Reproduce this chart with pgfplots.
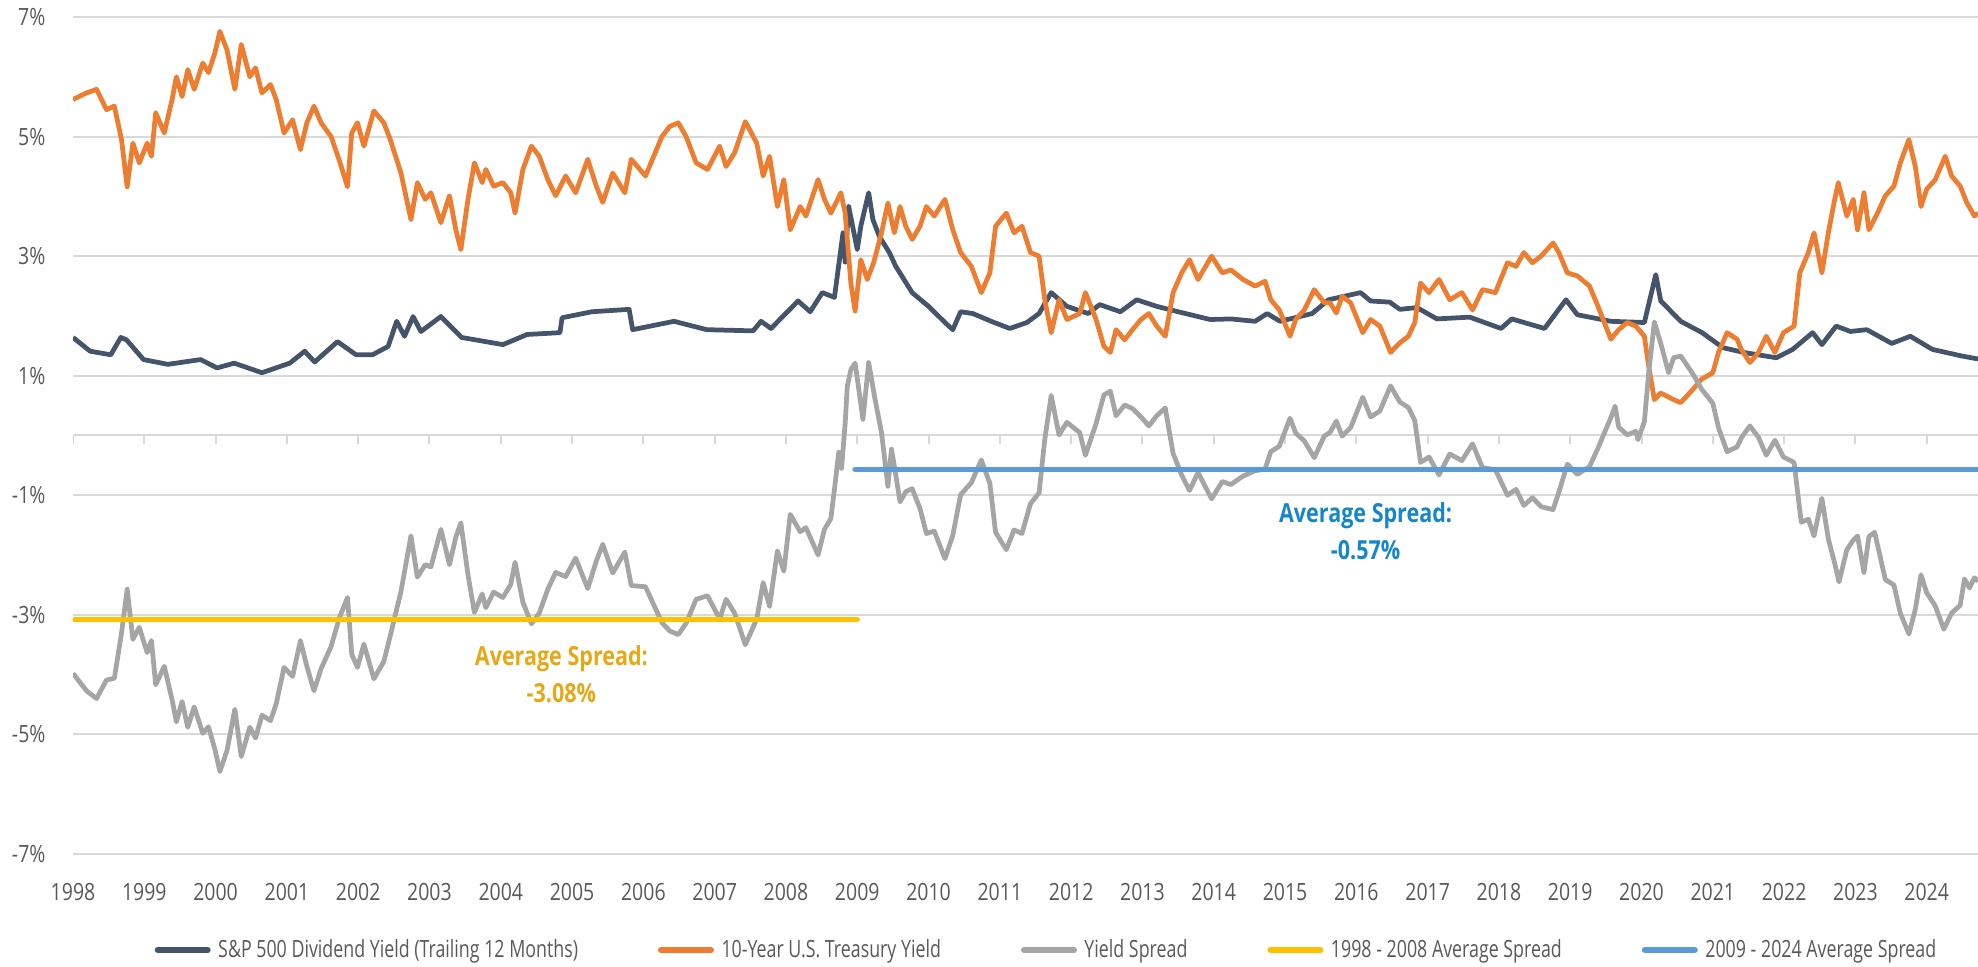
\documentclass[border=0pt]{standalone}
\usepackage{fontspec}
\setmainfont{Open Sans}[FakeStretch=0.82]
\newfontfamily\legfont{Open Sans}[FakeStretch=0.75]
\usepackage{pgfplots}
\pgfplotsset{compat=1.18}
\usepackage{pgfplotstable}
\definecolor{navyc}{HTML}{44546A}
\definecolor{orangec}{HTML}{ED7D31}
\definecolor{greyc}{HTML}{A5A5A5}
\definecolor{goldc}{HTML}{FFC000}
\definecolor{bluec}{HTML}{5B9BD5}
\definecolor{goldtext}{HTML}{E6A817}
\definecolor{bluetext}{HTML}{1586C8}
\definecolor{gridc}{HTML}{D9D9D9}
\definecolor{labelc}{HTML}{595959}

\pgfplotstableread{
x y
1998.00 1.64
1998.24 1.41
1998.53 1.35
1998.67 1.64
1998.75 1.60
1998.99 1.27
1999.33 1.19
1999.79 1.27
2000.02 1.13
2000.26 1.21
2000.65 1.05
2001.04 1.21
2001.25 1.41
2001.39 1.23
2001.71 1.57
2001.97 1.35
2002.20 1.35
2002.42 1.49
2002.54 1.91
2002.65 1.66
2002.77 1.99
2002.88 1.74
2003.16 1.99
2003.45 1.64
2004.03 1.52
2004.37 1.69
2004.83 1.72
2004.86 1.97
2005.28 2.07
2005.80 2.11
2005.85 1.77
2006.43 1.91
2006.89 1.77
2007.54 1.75
2007.65 1.91
2007.79 1.79
2008.17 2.25
2008.34 2.07
2008.51 2.39
2008.68 2.31
2008.80 3.39
2008.83 2.90
2008.88 3.83
2009.00 3.11
2009.05 3.50
2009.16 4.06
2009.22 3.61
2009.31 3.33
2009.45 3.06
2009.54 2.83
2009.77 2.39
2010.00 2.16
2010.23 1.89
2010.34 1.77
2010.45 2.07
2010.62 2.04
2010.92 1.89
2011.14 1.79
2011.38 1.89
2011.55 2.04
2011.72 2.39
2011.94 2.16
2012.24 2.04
2012.40 2.19
2012.69 2.07
2012.92 2.27
2013.20 2.16
2013.50 2.07
2013.95 1.94
2014.24 1.95
2014.58 1.91
2014.75 2.04
2014.93 1.91
2015.38 2.04
2015.61 2.27
2016.06 2.39
2016.20 2.25
2016.47 2.23
2016.61 2.11
2016.85 2.14
2017.13 1.95
2017.59 1.98
2018.03 1.79
2018.18 1.95
2018.64 1.79
2018.94 2.27
2019.10 2.02
2019.57 1.91
2020.04 1.89
2020.20 2.69
2020.27 2.25
2020.55 1.91
2020.85 1.72
2021.14 1.47
2021.43 1.39
2021.89 1.30
2022.12 1.44
2022.40 1.72
2022.53 1.52
2022.73 1.83
2022.93 1.74
2023.16 1.77
2023.51 1.54
2023.77 1.66
2024.08 1.44
2024.49 1.33
2024.72 1.28
}\divtab

\pgfplotstableread{
x y
1998.00 5.62
1998.19 5.73
1998.33 5.79
1998.47 5.45
1998.58 5.51
1998.68 4.95
1998.76 4.16
1998.84 4.89
1998.93 4.56
1999.04 4.89
1999.10 4.67
1999.16 5.40
1999.28 5.06
1999.39 5.62
1999.45 6.00
1999.53 5.67
1999.61 6.12
1999.70 5.79
1999.82 6.23
1999.90 6.07
1999.99 6.40
2000.06 6.76
2000.16 6.45
2000.27 5.79
2000.36 6.54
2000.48 6.00
2000.56 6.15
2000.65 5.73
2000.77 5.87
2000.85 5.62
2000.96 5.06
2001.08 5.28
2001.19 4.78
2001.28 5.23
2001.38 5.51
2001.48 5.23
2001.62 5.00
2001.73 4.62
2001.85 4.16
2001.91 5.06
2001.99 5.23
2002.08 4.84
2002.22 5.43
2002.36 5.23
2002.45 4.95
2002.60 4.39
2002.74 3.61
2002.83 4.23
2002.94 3.95
2003.02 4.06
2003.16 3.56
2003.28 4.01
2003.37 3.44
2003.44 3.11
2003.54 3.95
2003.63 4.56
2003.74 4.23
2003.79 4.45
2003.90 4.17
2004.03 4.23
2004.14 4.06
2004.20 3.72
2004.31 4.45
2004.43 4.84
2004.54 4.67
2004.66 4.28
2004.77 4.01
2004.91 4.34
2005.05 4.06
2005.22 4.62
2005.34 4.17
2005.43 3.90
2005.57 4.39
2005.74 4.06
2005.83 4.62
2006.03 4.34
2006.26 5.00
2006.37 5.17
2006.49 5.23
2006.60 5.00
2006.74 4.56
2006.90 4.45
2007.07 4.84
2007.16 4.50
2007.28 4.73
2007.43 5.25
2007.59 4.89
2007.68 4.34
2007.77 4.67
2007.88 3.83
2007.97 4.28
2008.06 3.44
2008.20 3.83
2008.28 3.67
2008.45 4.28
2008.54 3.95
2008.63 3.72
2008.77 4.06
2008.83 3.72
2008.91 2.55
2008.97 2.08
2009.05 2.94
2009.14 2.61
2009.23 2.89
2009.34 3.39
2009.43 3.89
2009.52 3.39
2009.60 3.83
2009.68 3.50
2009.77 3.28
2009.88 3.50
2009.97 3.83
2010.08 3.67
2010.23 3.95
2010.34 3.44
2010.45 3.06
2010.60 2.83
2010.74 2.39
2010.86 2.72
2010.94 3.50
2011.09 3.72
2011.20 3.39
2011.31 3.50
2011.43 3.06
2011.55 3.00
2011.63 2.27
2011.72 1.72
2011.83 2.27
2011.94 1.94
2012.12 2.04
2012.20 2.39
2012.35 1.94
2012.46 1.49
2012.55 1.39
2012.63 1.77
2012.75 1.60
2012.86 1.77
2012.98 1.94
2013.09 2.04
2013.20 1.83
2013.32 1.66
2013.43 2.39
2013.55 2.72
2013.66 2.94
2013.78 2.61
2013.97 3.00
2014.12 2.72
2014.24 2.77
2014.41 2.61
2014.58 2.50
2014.72 2.58
2014.80 2.27
2014.92 2.10
2015.07 1.66
2015.15 1.94
2015.27 2.10
2015.41 2.44
2015.55 2.22
2015.63 2.22
2015.72 2.05
2015.80 2.33
2015.92 2.22
2016.09 1.72
2016.20 1.94
2016.33 1.83
2016.48 1.39
2016.61 1.55
2016.73 1.66
2016.82 1.89
2016.90 2.55
2017.02 2.39
2017.16 2.61
2017.31 2.27
2017.48 2.39
2017.63 2.10
2017.77 2.44
2017.95 2.39
2018.12 2.89
2018.24 2.83
2018.35 3.06
2018.47 2.89
2018.59 3.00
2018.76 3.22
2018.84 3.06
2018.96 2.72
2019.10 2.67
2019.27 2.50
2019.39 2.16
2019.57 1.61
2019.68 1.77
2019.80 1.89
2019.92 1.83
2020.04 1.66
2020.10 1.16
2020.18 0.60
2020.27 0.71
2020.45 0.60
2020.55 0.55
2020.72 0.77
2020.84 0.94
2021.00 1.05
2021.08 1.39
2021.20 1.72
2021.34 1.61
2021.40 1.44
2021.52 1.22
2021.64 1.39
2021.75 1.66
2021.87 1.39
2021.99 1.72
2022.14 1.83
2022.22 2.72
2022.34 3.06
2022.42 3.39
2022.53 2.72
2022.62 3.39
2022.71 3.95
2022.76 4.23
2022.88 3.67
2022.97 3.95
2023.03 3.44
2023.12 4.06
2023.19 3.44
2023.31 3.72
2023.42 4.01
2023.54 4.17
2023.63 4.56
2023.75 4.95
2023.84 4.50
2023.92 3.83
2024.00 4.12
2024.12 4.28
2024.26 4.67
2024.35 4.34
2024.47 4.17
2024.56 3.90
2024.67 3.67
2024.72 3.72
}\tsytab

\pgfplotstableread{
x y
1998.00 -3.98
1998.19 -4.27
1998.33 -4.40
1998.47 -4.09
1998.58 -4.06
1998.68 -3.31
1998.76 -2.57
1998.84 -3.41
1998.93 -3.21
1999.04 -3.63
1999.10 -3.43
1999.16 -4.17
1999.28 -3.86
1999.39 -4.42
1999.45 -4.79
1999.53 -4.45
1999.61 -4.88
1999.70 -4.54
1999.82 -4.98
1999.90 -4.87
1999.99 -5.25
2000.06 -5.62
2000.16 -5.27
2000.27 -4.58
2000.36 -5.37
2000.48 -4.88
2000.56 -5.06
2000.65 -4.68
2000.77 -4.77
2000.85 -4.49
2000.96 -3.88
2001.08 -4.03
2001.19 -3.43
2001.28 -3.86
2001.38 -4.27
2001.48 -3.90
2001.62 -3.53
2001.73 -3.07
2001.85 -2.71
2001.91 -3.66
2001.99 -3.88
2002.08 -3.49
2002.22 -4.07
2002.36 -3.78
2002.45 -3.35
2002.60 -2.61
2002.74 -1.68
2002.83 -2.37
2002.94 -2.16
2003.02 -2.20
2003.16 -1.57
2003.28 -2.16
2003.37 -1.70
2003.44 -1.46
2003.54 -2.33
2003.63 -2.96
2003.74 -2.65
2003.79 -2.88
2003.90 -2.62
2004.03 -2.71
2004.14 -2.49
2004.20 -2.12
2004.31 -2.79
2004.43 -3.15
2004.54 -2.97
2004.66 -2.57
2004.77 -2.29
2004.91 -2.36
2005.05 -2.05
2005.22 -2.56
2005.34 -2.10
2005.43 -1.82
2005.57 -2.30
2005.74 -1.95
2005.83 -2.51
2006.03 -2.53
2006.26 -3.13
2006.37 -3.27
2006.49 -3.33
2006.60 -3.14
2006.74 -2.74
2006.90 -2.68
2007.07 -3.07
2007.16 -2.74
2007.28 -2.97
2007.43 -3.50
2007.59 -3.07
2007.68 -2.46
2007.77 -2.86
2007.88 -1.93
2007.97 -2.27
2008.06 -1.32
2008.20 -1.61
2008.28 -1.54
2008.45 -2.00
2008.54 -1.57
2008.63 -1.39
2008.68 -0.90
2008.74 -0.28
2008.78 -0.55
2008.83 0.20
2008.86 0.82
2008.91 1.10
2008.97 1.21
2009.03 0.70
2009.08 0.27
2009.16 1.22
2009.25 0.60
2009.34 0.05
2009.43 -0.85
2009.48 -0.23
2009.52 -0.51
2009.60 -1.11
2009.68 -0.94
2009.77 -0.89
2009.88 -1.22
2009.97 -1.64
2010.08 -1.60
2010.23 -2.06
2010.34 -1.67
2010.45 -0.99
2010.60 -0.79
2010.74 -0.41
2010.86 -0.80
2010.94 -1.62
2011.09 -1.91
2011.20 -1.58
2011.31 -1.64
2011.43 -1.14
2011.55 -0.96
2011.63 -0.07
2011.72 0.67
2011.83 0.01
2011.94 0.22
2012.12 0.05
2012.20 -0.33
2012.35 0.20
2012.46 0.68
2012.55 0.74
2012.63 0.33
2012.75 0.51
2012.86 0.45
2012.98 0.31
2013.09 0.16
2013.20 0.33
2013.32 0.46
2013.43 -0.30
2013.55 -0.66
2013.66 -0.92
2013.78 -0.62
2013.97 -1.06
2014.12 -0.77
2014.24 -0.82
2014.41 -0.68
2014.58 -0.59
2014.72 -0.56
2014.80 -0.27
2014.92 -0.18
2015.07 0.29
2015.15 0.04
2015.27 -0.09
2015.41 -0.37
2015.55 -0.01
2015.63 0.05
2015.72 0.24
2015.80 -0.01
2015.92 0.13
2016.09 0.64
2016.20 0.31
2016.33 0.41
2016.48 0.83
2016.61 0.56
2016.73 0.47
2016.82 0.25
2016.90 -0.45
2017.02 -0.36
2017.16 -0.66
2017.31 -0.31
2017.48 -0.42
2017.63 -0.14
2017.77 -0.54
2017.95 -0.57
2018.12 -1.00
2018.24 -0.90
2018.35 -1.17
2018.47 -1.04
2018.59 -1.19
2018.76 -1.24
2018.84 -0.95
2018.96 -0.48
2019.10 -0.65
2019.27 -0.52
2019.39 -0.21
2019.57 0.30
2019.63 0.49
2019.68 0.14
2019.80 0.01
2019.92 0.07
2019.95 -0.07
2020.04 0.23
2020.10 1.04
2020.18 1.90
2020.27 1.54
2020.38 1.05
2020.45 1.30
2020.55 1.33
2020.72 1.03
2020.84 0.78
2021.00 0.54
2021.08 0.13
2021.20 -0.27
2021.34 -0.19
2021.40 -0.04
2021.52 0.16
2021.64 -0.03
2021.75 -0.33
2021.87 -0.08
2021.99 -0.36
2022.14 -0.45
2022.24 -1.45
2022.34 -1.40
2022.42 -1.68
2022.53 -1.05
2022.62 -1.73
2022.71 -2.14
2022.77 -2.45
2022.88 -1.91
2022.97 -1.75
2023.03 -1.68
2023.12 -2.29
2023.19 -1.69
2023.27 -1.62
2023.42 -2.41
2023.54 -2.50
2023.63 -2.97
2023.75 -3.32
2023.84 -2.91
2023.92 -2.33
2024.00 -2.63
2024.12 -2.85
2024.24 -3.24
2024.35 -2.97
2024.47 -2.84
2024.53 -2.40
2024.60 -2.55
2024.67 -2.38
2024.72 -2.44
}\spreadtab

\begin{document}
\begin{tikzpicture}
\useasboundingbox (0,0) rectangle (791.2pt,386.8pt);
\begin{axis}[
  at={(29.2pt,45.2pt)}, anchor=south west,
  scale only axis, width=762pt, height=334.8pt,
  xmin=1998, xmax=2024.72, ymin=-7, ymax=7,
  axis line style={draw=none},
  major tick length=0pt,
  ytick={-7,-5,-3,-1,1,3,5,7},
  yticklabels={-7\%,-5\%,-3\%,-1\%,1\%,3\%,5\%,7\%},
  extra y ticks={0}, extra y tick labels={},
  ymajorgrids,
  major grid style={draw=gridc, line width=0.8pt},
  xtick={1998,1999,2000,2001,2002,2003,2004,2005,2006,2007,2008,2009,2010,2011,2012,2013,2014,2015,2016,2017,2018,2019,2020,2021,2022,2023,2024},
  xticklabels={1998,1999,2000,2001,2002,2003,2004,2005,2006,2007,2008,2009,2010,2011,2012,2013,2014,2015,2016,2017,2018,2019,2020,2021,2022,2023,2024},
  tick label style={font=\fontsize{9.5}{11}\selectfont, text=labelc},
  yticklabel style={xshift=-7.5pt},
  xticklabel style={yshift=-8pt},
  legend columns=5,
  legend style={at={(0.5118,-0.1147)}, anchor=center, draw=none, fill=none,
    font=\legfont\fontsize{9.5}{11}\selectfont, text=labelc,
    /tikz/every even column/.append style={column sep=30pt},
    /tikz/every odd column/.append style={column sep=1pt}},
  legend image code/.code={\draw[#1, line width=2.4pt, line cap=round] (0pt,0pt) -- (20pt,0pt);},
]
\addplot[ycomb, draw=gridc, line width=0.8pt, forget plot] coordinates {
(1998,-0.15) (1999,-0.15) (2000,-0.15) (2001,-0.15) (2002,-0.15) (2003,-0.15) (2004,-0.15) (2005,-0.15) (2006,-0.15) (2007,-0.15) (2008,-0.15) (2009,-0.15) (2010,-0.15) (2011,-0.15) (2012,-0.15) (2013,-0.15) (2014,-0.15) (2015,-0.15) (2016,-0.15) (2017,-0.15) (2018,-0.15) (2019,-0.15) (2020,-0.15) (2021,-0.15) (2022,-0.15) (2023,-0.15) (2024,-0.15)};
\addplot[navyc, line width=1.9pt, line join=round] table {\divtab};
\addlegendentry{S\&P 500 Dividend Yield (Trailing 12 Months)}
\addplot[orangec, line width=1.9pt, line join=round] table {\tsytab};
\addlegendentry{10-Year U.S. Treasury Yield}
\addplot[greyc, line width=1.9pt, line join=round] table {\spreadtab};
\addlegendentry{Yield Spread}
\addplot[goldc, line width=2.2pt, line cap=round] coordinates {(1998,-3.08) (2009.0,-3.08)};
\addlegendentry{1998 - 2008 Average Spread}
\addplot[bluec, line width=2.2pt, line cap=round] coordinates {(2008.97,-0.57) (2024.72,-0.57)};
\addlegendentry{2009 - 2024 Average Spread}
\node[font=\bfseries\fontsize{10.5}{14.8}\selectfont, text=goldtext, align=center] at (axis cs:2004.85,-3.99) {Average Spread:\\-3.08\%};
\node[font=\bfseries\fontsize{10.5}{14.8}\selectfont, text=bluetext, align=center] at (axis cs:2016.13,-1.6) {Average Spread:\\-0.57\%};
\end{axis}
\end{tikzpicture}
\end{document}
